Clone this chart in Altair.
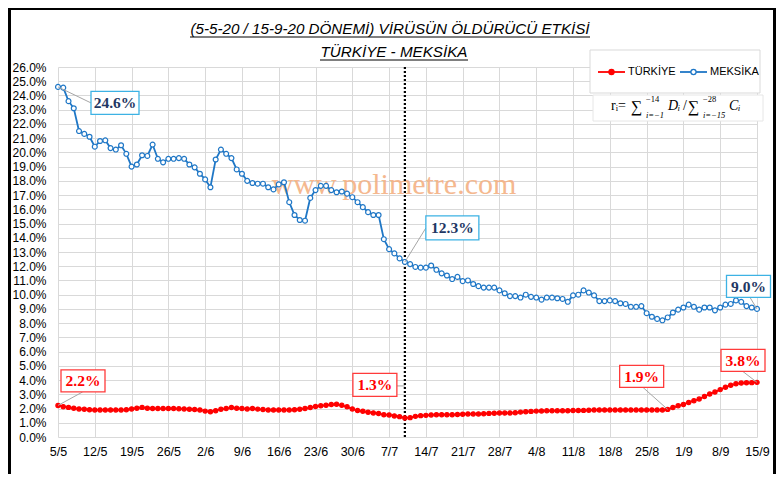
import json
import altair as alt
import pandas as pd

# ---------------- data ----------------
dates = pd.date_range("2020-05-05", "2020-09-15", freq="D").strftime("%Y-%m-%d").tolist()

turkiye = [2.22, 2.13, 2.08, 2.02, 1.97, 1.95, 1.92, 1.90, 1.90, 1.90,
           1.90, 1.90, 1.90, 1.92, 1.97, 2.02, 2.08, 2.02, 2.00, 2.00,
           2.00, 2.00, 2.00, 1.98, 1.97, 1.95, 1.93, 1.90, 1.82, 1.78,
           1.85, 1.95, 2.00, 2.07, 2.02, 2.00, 1.97, 2.00, 1.96, 1.93,
           1.90, 1.90, 1.90, 1.90, 1.90, 1.92, 1.95, 2.00, 2.07, 2.14,
           2.19, 2.23, 2.28, 2.30, 2.23, 2.12, 1.97, 1.86, 1.81, 1.74,
           1.69, 1.65, 1.57, 1.55, 1.48, 1.43, 1.34, 1.36, 1.45, 1.50,
           1.52, 1.55, 1.57, 1.57, 1.57, 1.57, 1.58, 1.60, 1.62, 1.62,
           1.62, 1.63, 1.66, 1.67, 1.68, 1.68, 1.69, 1.71, 1.75, 1.78,
           1.80, 1.82, 1.83, 1.84, 1.84, 1.84, 1.84, 1.85, 1.86, 1.86,
           1.87, 1.88, 1.90, 1.90, 1.90, 1.90, 1.90, 1.90, 1.90, 1.90,
           1.90, 1.90, 1.90, 1.90, 1.90, 1.90, 1.94, 2.07, 2.19, 2.29,
           2.43, 2.55, 2.67, 2.85, 3.02, 3.16, 3.33, 3.50, 3.63, 3.74,
           3.79, 3.81, 3.82, 3.84]

meksika = [24.6, 24.55, 23.6, 23.1, 21.5, 21.3, 21.1, 20.4, 20.8, 20.85,
           20.3, 20.2, 20.5, 19.9, 19.0, 19.15, 19.8, 19.75, 20.55, 19.55,
           19.3, 19.55, 19.55, 19.6, 19.55, 19.15, 18.95, 18.5, 18.1, 17.55,
           19.5, 20.2, 19.9, 19.6, 18.8, 18.5, 18.0, 17.85, 17.8, 17.8,
           17.55, 17.4, 17.75, 17.9, 16.5, 15.6, 15.25, 15.2, 16.8, 17.35,
           17.65, 17.65, 17.35, 17.2, 17.25, 17.1, 16.85, 16.5, 16.15, 15.8,
           15.6, 15.6, 13.9, 13.2, 12.9, 12.55, 12.3, 12.15, 11.95, 11.9,
           11.9, 12.05, 11.75, 11.5, 11.35, 11.1, 11.25, 10.95, 11.0, 10.75,
           10.6, 10.5, 10.5, 10.5, 10.3, 10.1, 9.9, 9.9, 9.8, 10.0,
           9.85, 9.8, 9.65, 9.8, 9.8, 9.75, 9.7, 9.5, 9.95, 10.0,
           10.3, 10.15, 9.95, 9.55, 9.55, 9.6, 9.55, 9.4, 9.35, 9.15,
           9.15, 9.2, 8.7, 8.45, 8.3, 8.2, 8.4, 8.75, 8.95, 9.1,
           9.3, 9.15, 8.95, 9.1, 9.1, 8.9, 9.1, 9.3, 9.35, 9.6,
           9.5, 9.2, 9.1, 9.0]

series_names = ["TÜRKİYE", "MEKSİKA"]
series_colors = ["#FF0000", "#1F77C6"]
marker_fills = ["#FF0000", "#FFFFFF"]
marker_sizes = [18, 24]

tick_labels = ["5/5", "12/5", "19/5", "26/5", "2/6", "9/6", "16/6", "23/6", "30/6",
               "7/7", "14/7", "21/7", "28/7", "4/8", "11/8", "18/8", "25/8", "1/9",
               "8/9", "15/9"]
tick_dates = dates[::7]
y_ticks = list(range(0, 27))
split_date = "2020-07-10"

title_lines = ["(5-5-20 / 15-9-20 DÖNEMİ) VİRÜSÜN ÖLDÜRÜCÜ ETKİSİ", "TÜRKİYE - MEKSİKA"]
watermark = "www.polimetre.com"

# callouts: (series, day index)
callouts = [("MEKSİKA", 0), ("MEKSİKA", 66), ("MEKSİKA", 133),
            ("TÜRKİYE", 0), ("TÜRKİYE", 66), ("TÜRKİYE", 116), ("TÜRKİYE", 133)]

# ---------------- helpers ----------------
def ms(d):
    return int(pd.Timestamp(d, tz="UTC").timestamp() * 1000)

t0, t1 = ms(dates[0]), ms(dates[-1])
tick_ms = [ms(d) for d in tick_dates]

df = pd.DataFrame({
    "date": dates + dates,
    "value": turkiye + meksika,
    "series": [series_names[0]] * len(dates) + [series_names[1]] * len(dates),
})

AXIS_FONT = "Liberation Sans"
TITLE_FONT = "Liberation Sans"
SERIF = "Liberation Serif"
GRID = "#D9D9D9"

x_enc = alt.X(
    "date:T",
    scale=alt.Scale(type="utc", domain=[t0, t1], nice=False),
    axis=alt.Axis(
        values=tick_ms,
        labelExpr=f"{json.dumps(tick_labels)}[round((datum.value - {t0}) / 604800000)]",
        title=None, grid=True, gridColor=GRID, gridWidth=1, domain=False, ticks=False,
        labelPadding=8, labelFont=AXIS_FONT, labelFontSize=12.5, labelColor="#000000",
        labelFlush=False, labelOverlap=False,
    ),
)
y_enc = alt.Y(
    "value:Q",
    scale=alt.Scale(domain=[0, 26], nice=False, zero=True),
    axis=alt.Axis(
        values=y_ticks,
        labelExpr="format(datum.value, '.1f') + '%'",
        title=None, grid=True, gridColor=GRID, gridWidth=1, domain=False, ticks=False,
        labelPadding=12, labelFont=AXIS_FONT, labelFontSize=12, labelColor="#000000",
        labelOverlap=False,
    ),
)

stroke_scale = alt.Scale(domain=series_names, range=series_colors)
fill_scale = alt.Scale(domain=series_names, range=marker_fills)
size_scale = alt.Scale(domain=series_names, range=marker_sizes)

one = alt.Data(values=[{"k": 0}])


def deco_text(text, x, y, **kw):
    return alt.Chart(one).mark_text(**kw).encode(
        x=alt.value(x), y=alt.value(y), text=alt.value(text))


def deco_rule(x, x2, y, y2, **kw):
    return alt.Chart(one).mark_rule(**kw).encode(
        x=alt.value(x), x2=alt.value(x2), y=alt.value(y), y2=alt.value(y2))


def deco_rect(x, x2, y, y2, **kw):
    return alt.Chart(one).mark_rect(**kw).encode(
        x=alt.value(x), x2=alt.value(x2), y=alt.value(y), y2=alt.value(y2))


def deco_dot(x, y, **kw):
    return alt.Chart(one).mark_circle(**kw).encode(x=alt.value(x), y=alt.value(y))


layers = []

# legend / formula boxes
layers.append(deco_rect(532, 702, -17, 26, fill="#FFFFFF", stroke="#D9D9D9", strokeWidth=1))
layers.append(deco_rect(535, 705, 28, 54, fill="#FFFFFF", stroke="#E6E6E6", strokeWidth=1))

# legend entries
for i, lx in enumerate([540, 622]):
    layers.append(deco_rule(lx, lx + 27, 5, 5, color=series_colors[i], strokeWidth=1.8))
    layers.append(deco_dot(lx + 13.5, 5, size=26, opacity=1, fill=marker_fills[i],
                           stroke=series_colors[i], strokeWidth=1.3))
    layers.append(deco_text(series_names[i], lx + 30, 5, font=AXIS_FONT, fontSize=11,
                            color="#000000", align="left", baseline="middle"))

# watermark
layers.append(deco_text(watermark, 336, 127, font=SERIF, fontSize=30, color="#F4B183",
                        opacity=0.9, align="center", baseline="alphabetic"))

# split line
layers.append(
    alt.Chart(pd.DataFrame({"date": [split_date]})).mark_rule(
        color="#000000", strokeWidth=2.2, strokeDash=[2, 2]).encode(x=x_enc)
)

# series lines
layers.append(
    alt.Chart(df).mark_line(strokeWidth=1.8).encode(
        x=x_enc, y=y_enc,
        stroke=alt.Stroke("series:N", scale=stroke_scale, legend=None),
    )
)
layers.append(
    alt.Chart(df).mark_circle(opacity=1, strokeWidth=1.2).encode(
        x=x_enc, y=y_enc,
        stroke=alt.Stroke("series:N", scale=stroke_scale, legend=None),
        fill=alt.Fill("series:N", scale=fill_scale, legend=None),
        size=alt.Size("series:N", scale=size_scale, legend=None),
    )
)

# callouts: (box dx, box dy, w, h, leader x1, y1, x2, y2)
callout_style = [
    (57, 16, 48, 23, 0, 0, 33, 16),
    (47.5, -34, 53, 24, 0, 0, 21, -34),
    (-8.5, -22.5, 44, 22, 0, 0, -7, -11.5),
    (25, -24.5, 44, 22, 0, 0, 24.7, -13.5),
    (-30, -33, 44, 23, -8, -32, 0, -32),
    (-26, -33, 44, 22, 0, 0, -24.7, -22),
    (-14, -22, 44, 22, 0, 0, -14.3, -11),
]
series_values = {series_names[0]: turkiye, series_names[1]: meksika}
for (name, idx), (dx, dy, w, h, lx1, ly1, lx2, ly2) in zip(callouts, callout_style):
    row = pd.DataFrame({"date": [dates[idx]], "value": [series_values[name][idx]]})
    is_blue = name == series_names[1]
    border = "#3DB2E4" if is_blue else "#FF3B3B"
    txt_color = "#1F3864" if is_blue else "#FF0000"
    base = alt.Chart(row).transform_calculate(
        label="format(datum.value, '.1f') + '%'")
    layers.append(base.mark_rule(color="#A6A6A6", strokeWidth=1, xOffset=lx1, yOffset=ly1,
                                 x2Offset=lx2, y2Offset=ly2).encode(
        x=x_enc, y=y_enc, x2="date:T", y2="value:Q"))
    layers.append(base.mark_rect(width=w, height=h, xOffset=dx, yOffset=dy, fill="#FFFFFF",
                                 stroke=border, strokeWidth=1.3).encode(x=x_enc, y=y_enc))
    layers.append(base.mark_text(dx=dx, dy=dy + 0.5, font=SERIF, fontWeight="bold", fontSize=15.5,
                                 color=txt_color, align="center", baseline="middle").encode(
        x=x_enc, y=y_enc, text="label:N"))

# titles with underlines
layers.append(deco_text(title_lines[0], 332, -33, font=TITLE_FONT, fontSize=15.2, fontStyle="italic",
                        color="#000000", align="center", baseline="alphabetic"))
layers.append(deco_rule(132, 532, -30, -30, color="#000000", strokeWidth=1))
layers.append(deco_text(title_lines[1], 336, -10, font=TITLE_FONT, fontSize=15.2, fontStyle="italic",
                        color="#000000", align="center", baseline="alphabetic"))
layers.append(deco_rule(262, 410, -7, -7, color="#000000", strokeWidth=1))

# formula
FS = 14
layers.append(deco_text("rᵢ=", 553, 43, font=SERIF, fontSize=FS, color="#000000",
                        align="left", baseline="alphabetic"))
layers.append(deco_text("∑", 573, 45, font=SERIF, fontSize=16, color="#000000",
                        align="left", baseline="alphabetic"))
layers.append(deco_text("−14", 588, 35, font=SERIF, fontSize=8.5, color="#000000",
                        align="left", baseline="alphabetic"))
layers.append(deco_text("i=−1", 588, 51, font=SERIF, fontSize=8.5, fontStyle="italic",
                        color="#000000", align="left", baseline="alphabetic"))
layers.append(deco_text("Dᵢ", 610, 43, font=SERIF, fontSize=FS, fontStyle="italic",
                        color="#000000", align="left", baseline="alphabetic"))
layers.append(deco_text("/", 625, 43, font=SERIF, fontSize=FS,
                        color="#000000", align="left", baseline="alphabetic"))
layers.append(deco_text("∑", 630, 45, font=SERIF, fontSize=16, color="#000000",
                        align="left", baseline="alphabetic"))
layers.append(deco_text("−28", 645, 35, font=SERIF, fontSize=8.5, color="#000000",
                        align="left", baseline="alphabetic"))
layers.append(deco_text("i=−15", 645, 51, font=SERIF, fontSize=8.5, fontStyle="italic",
                        color="#000000", align="left", baseline="alphabetic"))
layers.append(deco_text("Cᵢ", 671, 43, font=SERIF, fontSize=FS, fontStyle="italic",
                        color="#000000", align="left", baseline="alphabetic"))

# outer frame
layers.append(deco_rule(-48.5, -48.5, -59, 407, color="#000000", strokeWidth=3))
layers.append(deco_rule(-50, 718, -58, -58, color="#000000", strokeWidth=2))
layers.append(deco_rule(716.5, 716.5, -59, 407, color="#000000", strokeWidth=3))

chart = alt.layer(*layers).properties(
    width=699, height=370,
    autosize=alt.AutoSizeParams(type="none"),
    padding={"left": 50, "top": 59, "right": 19, "bottom": 37},
    background="#FFFFFF",
).configure_view(stroke="transparent")

chart.save("out.html", embed_options={"renderer": "svg", "actions": False})
